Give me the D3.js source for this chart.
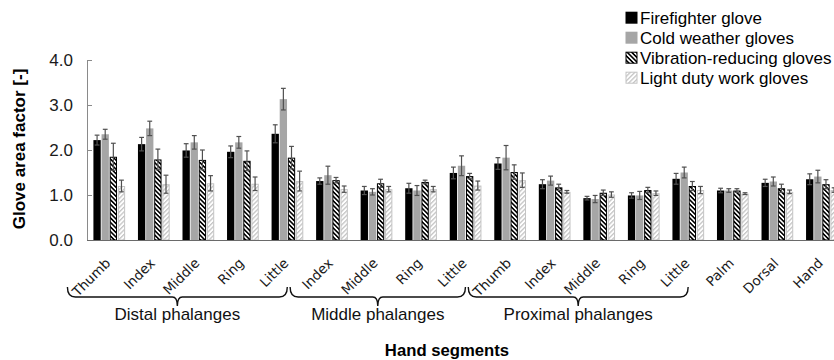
<!DOCTYPE html>
<html><head><meta charset="utf-8">
<script src="https://cdn.jsdelivr.net/npm/d3@7"></script>
<style>html,body{margin:0;padding:0;background:#fff;overflow:hidden}</style>
</head><body>
<svg id="chart" width="834" height="360"></svg>
<script>
// ---------- data ----------
const categories = ["Thumb","Index","Middle","Ring","Little","Index","Middle","Ring","Little","Thumb","Index","Middle","Ring","Little","Palm","Dorsal","Hand"];
const seriesNames = ["Firefighter glove","Cold weather gloves","Vibration-reducing gloves","Light duty work gloves"];
const firefighter   = [2.22,2.13,1.99,1.96,2.36,1.31,1.10,1.15,1.49,1.70,1.24,0.93,0.99,1.36,1.10,1.27,1.35];
const firefighterSD = [0.11,0.15,0.15,0.13,0.20,0.07,0.09,0.11,0.13,0.13,0.10,0.04,0.06,0.12,0.05,0.08,0.12];
const coldWeather   = [2.35,2.48,2.17,2.17,3.13,1.44,1.07,1.10,1.65,1.83,1.32,0.91,0.99,1.50,1.10,1.30,1.41];
const coldWeatherSD = [0.11,0.16,0.15,0.13,0.24,0.20,0.07,0.11,0.22,0.27,0.10,0.08,0.09,0.12,0.04,0.10,0.14];
const vibration     = [1.85,1.79,1.78,1.76,1.83,1.33,1.26,1.29,1.42,1.51,1.17,1.05,1.11,1.20,1.10,1.15,1.24];
const vibrationSD   = [0.30,0.23,0.22,0.22,0.25,0.06,0.09,0.04,0.06,0.16,0.07,0.06,0.06,0.10,0.04,0.09,0.10];
const lightDuty     = [1.20,1.24,1.26,1.25,1.31,1.13,1.13,1.13,1.21,1.33,1.07,1.01,1.04,1.11,1.03,1.07,1.11];
const lightDutySD   = [0.13,0.20,0.17,0.15,0.22,0.07,0.06,0.06,0.10,0.16,0.03,0.06,0.05,0.08,0.02,0.04,0.05];
const yTicks = [0,1,2,3,4];
const regionLabels = ["Distal phalanges","Middle phalanges","Proximal phalanges"];
const regionFrom = [0,5,9];
const regionTo = [4,8,13];

// ---------- setup ----------
const values = [firefighter, coldWeather, vibration, lightDuty];
const sds = [firefighterSD, coldWeatherSD, vibrationSD, lightDutySD];
const svg = d3.select("#chart");
const FONT = "Liberation Sans, Arial, sans-serif";
const plotLeft = 87, step = 44.54, plotBase = 240, plotTop = 60;

const defs = svg.append("defs");
function stripe(id, angle, color, bg, w, sw){
  const p = defs.append("pattern").attr("id", id).attr("patternUnits","userSpaceOnUse")
    .attr("width", w).attr("height", w).attr("patternTransform", `rotate(${angle})`);
  p.append("rect").attr("width", w).attr("height", w).attr("fill", bg);
  p.append("rect").attr("width", sw).attr("height", w).attr("fill", color);
}
stripe("hatchV", -45, "#000", "#fff", 3.2, 1.6);
stripe("hatchL", 45, "#c4c4c4", "#fff", 3.2, 1.3);

const fills = ["#000000", "#a6a6a6", "url(#hatchV)", "url(#hatchL)"];
const strokes = ["none", "none", "#000", "#c4c4c4"];

const x = d3.scaleBand().domain(d3.range(categories.length))
  .range([plotLeft, plotLeft + step * categories.length]).paddingInner(0.288).paddingOuter(0.144);
const xs = d3.scaleBand().domain(d3.range(seriesNames.length)).range([0, x.bandwidth()]).paddingInner(0.1);
const y = d3.scaleLinear().domain([0, 4]).range([plotBase, plotTop]);

// ---------- bars ----------
const barData = [];
values.forEach((arr, s) => arr.forEach((v, i) => barData.push({s, i, v, sd: sds[s][i]})));
const inset = s => strokes[s] === "none" ? 0 : 0.5;

svg.append("g").selectAll("rect").data(barData).join("rect")
  .attr("x", d => x(d.i) + xs(d.s) + inset(d.s))
  .attr("width", d => xs.bandwidth() - 2 * inset(d.s))
  .attr("y", d => y(d.v) + inset(d.s))
  .attr("height", d => plotBase - y(d.v) - inset(d.s))
  .attr("fill", d => fills[d.s])
  .attr("stroke", d => strokes[d.s])
  .attr("stroke-width", 1);

// ---------- error bars ----------
const eb = svg.append("g").attr("stroke", "#505050").attr("stroke-width", 1.2).attr("fill", "none");
barData.forEach(d => {
  const cx = x(d.i) + xs(d.s) + xs.bandwidth() / 2;
  const y1 = y(d.v + d.sd), y2 = y(d.v - d.sd);
  eb.append("line").attr("x1", cx).attr("x2", cx).attr("y1", y1).attr("y2", y2);
  eb.append("line").attr("x1", cx - 2.4).attr("x2", cx + 2.4).attr("y1", y1).attr("y2", y1);
  eb.append("line").attr("x1", cx - 2.4).attr("x2", cx + 2.4).attr("y1", y2).attr("y2", y2);
});

// ---------- axes ----------
const yAxis = d3.axisLeft(y).tickValues(yTicks).tickFormat(d3.format(".1f"))
  .tickSizeInner(-5).tickSizeOuter(0).tickPadding(14);
const gy = svg.append("g").attr("transform", `translate(${plotLeft},0)`).call(yAxis);
gy.select(".domain").attr("stroke", "#8a8a8a");
gy.selectAll(".tick line").attr("stroke", "#8a8a8a");
gy.selectAll(".tick text").attr("font-family", FONT).attr("font-size", 17).attr("fill", "#1a1a1a");

svg.append("line").attr("x1", plotLeft).attr("x2", x.range()[1]).attr("y1", plotBase + 0.5).attr("y2", plotBase + 0.5)
  .attr("stroke", "#6a6a6a").attr("stroke-width", 1.2);

// category labels
svg.append("g").selectAll("text").data(categories).join("text")
  .attr("transform", (d, i) => `translate(${x(i) + x.bandwidth() / 2 + 2},264) rotate(-45)`)
  .attr("text-anchor", "end")
  .attr("font-family", "DejaVu Sans, Verdana, sans-serif").attr("font-size", 13.5).attr("fill", "#1a1a1a")
  .text(d => d);

// braces
const bg = svg.append("g");
regionLabels.forEach((lab, k) => {
  const l = x(regionFrom[k]) - 26, r = x(regionTo[k]) + x.bandwidth() - 16, m = (l + r) / 2;
  const ly = 297;
  const path = `M${l},${ly - 10} Q${l},${ly} ${l + 8},${ly} L${m - 5},${ly} Q${m},${ly} ${m},${ly + 9} Q${m},${ly} ${m + 5},${ly} L${r - 8},${ly} Q${r},${ly} ${r},${ly - 10}`;
  bg.append("path").attr("d", path).attr("fill", "none").attr("stroke", "#111").attr("stroke-width", 1.4);
  bg.append("text").attr("x", m).attr("y", 320).attr("text-anchor", "middle")
    .attr("font-family", FONT).attr("font-size", 17).attr("fill", "#111").text(lab);
});

// axis titles
svg.append("text").attr("x", 447).attr("y", 355.5).attr("text-anchor", "middle")
  .attr("font-family", FONT).attr("font-size", 16.7).attr("font-weight", "bold").attr("fill", "#000")
  .text("Hand segments");
svg.append("text").attr("transform", "translate(25,149) rotate(-90)").attr("text-anchor", "middle")
  .attr("font-family", FONT).attr("font-size", 17).attr("font-weight", "bold").attr("fill", "#000")
  .text("Glove area factor [-]");

// ---------- legend ----------
const lg = svg.append("g").selectAll("g").data(seriesNames).join("g")
  .attr("transform", (d, i) => `translate(625.5,${11.7 + 20 * i})`);
lg.append("rect").attr("x", (d, i) => inset(i)).attr("y", (d, i) => inset(i))
  .attr("width", (d, i) => 12 - 2 * inset(i)).attr("height", (d, i) => 12 - 2 * inset(i))
  .attr("fill", (d, i) => fills[i]).attr("stroke", (d, i) => strokes[i]).attr("stroke-width", 1);
lg.append("text").attr("x", 14.5).attr("y", 11.8)
  .attr("font-family", FONT).attr("font-size", 17).attr("fill", "#000").text(d => d);
</script>
</body></html>
